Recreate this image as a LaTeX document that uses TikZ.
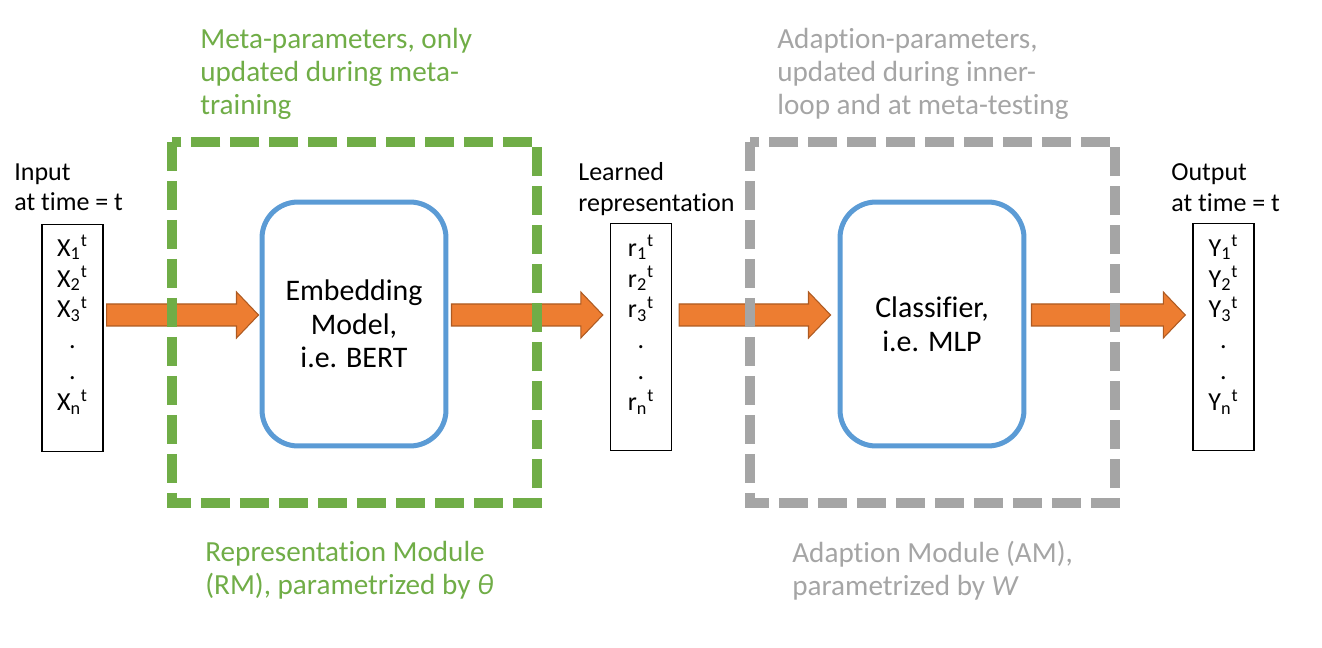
\documentclass[tikz,border=0pt]{standalone}
\usepackage{fontspec}
\setmainfont{Carlito}[Ligatures=CommonOff]
\usetikzlibrary{calc}
\definecolor{metagreen}{HTML}{70AD47}
\definecolor{adaptgray}{HTML}{A5A5A5}
\definecolor{modblue}{HTML}{5B9BD5}
\definecolor{arrfill}{HTML}{ED7D31}
\definecolor{arrline}{HTML}{AE5A21}
\newcommand{\blockarrow}[2]{%
  \filldraw[blockarrow] ($(#1)+(0,-11)$) -- ($(#2)+(-22,-11)$) -- ($(#2)+(-22,-23)$)
    -- (#2) -- ($(#2)+(-22,23)$) -- ($(#2)+(-22,11)$) -- ($(#1)+(0,11)$) -- cycle;}
\begin{document}
\begin{tikzpicture}[x=0.02cm, y=-0.02cm,
    vecbox/.style={draw, line width=0.8pt, minimum width=1.22cm, minimum height=4.54cm, inner sep=0pt},
    veclist/.style={align=center, inner sep=0pt, font=\fontsize{14.8}{17.6}\selectfont},
    iolabel/.style={anchor=north west, align=left, inner sep=0pt, font=\fontsize{14.8}{17.6}\selectfont},
    module/.style={draw=modblue, line width=2.85pt, rounded corners=0.72cm, minimum width=3.68cm,
      minimum height=4.88cm, align=center, font=\fontsize{17}{19.2}\selectfont},
    paramframe/.style={line width=0.2cm, dash pattern=on 0.58cm off 0.2cm},
    note/.style={anchor=north west, align=left, inner sep=0pt, font=\fontsize{16.6}{18.7}\selectfont},
    blockarrow/.style={fill=arrfill, draw=arrline, line width=0.6pt}]
  \useasboundingbox (0,0) rectangle (1322,648);

  \node[iolabel] (inlabel) at (14,163) {Input\\at time = t};
  \node[vecbox] (inbox) at (72.5,338) {};
  \node[veclist] (inlist) at (72.5,325) {X\textsubscript{1}\textsuperscript{t}\\X\textsubscript{2}\textsuperscript{t}\\X\textsubscript{3}\textsuperscript{t}\\.\\.\\X\textsubscript{n}\textsuperscript{t}};

  \node[module] (embed) at (354,324) {Embedding\\Model,\\i.e. BERT};

  \node[iolabel] (replabel) at (578,162) {Learned\\representation};
  \node[vecbox] (repbox) at (641,337) {};
  \node[veclist] (replist) at (641,325) {r\textsubscript{1}\textsuperscript{t}\\r\textsubscript{2}\textsuperscript{t}\\r\textsubscript{3}\textsuperscript{t}\\.\\.\\r\textsubscript{n}\textsuperscript{t}};

  \node[module] (classif) at (932,324) {Classifier,\\i.e. MLP};

  \node[iolabel] (outlabel) at (1171,163) {Output\\at time = t};
  \node[vecbox] (outbox) at (1223.5,337) {};
  \node[veclist] (outlist) at (1223.5,325) {Y\textsubscript{1}\textsuperscript{t}\\Y\textsubscript{2}\textsuperscript{t}\\Y\textsubscript{3}\textsuperscript{t}\\.\\.\\Y\textsubscript{n}\textsuperscript{t}};

  % arrows between the stages
  \coordinate (row) at (0,315);
  \coordinate (a1s) at ($(inbox.east |- row)+(3,0)$);
  \coordinate (a1e) at ($(embed.west |- row)+(-1,0)$);
  \coordinate (a2s) at ($(embed.east |- row)+(3,0)$);
  \coordinate (a2e) at ($(repbox.west |- row)+(-7,0)$);
  \coordinate (a3s) at ($(repbox.east |- row)+(7,0)$);
  \coordinate (a3e) at ($(classif.west |- row)+(-7,0)$);
  \coordinate (a4s) at ($(classif.east |- row)+(5,0)$);
  \coordinate (a4e) at ($(outbox.west |- row)+(-7,0)$);
  \blockarrow{a1s}{a1e}
  \blockarrow{a2s}{a2e}
  \blockarrow{a3s}{a3e}
  \blockarrow{a4s}{a4e}

  % parameter groups
  \draw[paramframe, metagreen] (172,142) rectangle (537,503);
  \draw[paramframe, adaptgray] (750,142) rectangle (1115,503);

  \node[note, text=metagreen] (metatop) at (200,28) {Meta-parameters, only\\updated during meta-\\training};
  \node[note, text=metagreen] (metabot) at (205,541) {Representation Module\\(RM), parametrized by \textit{θ}};
  \node[note, text=adaptgray] (adapttop) at (777,28) {Adaption-parameters,\\updated during inner-\\loop and at meta-testing};
  \node[note, text=adaptgray] (adaptbot) at (792,541) {Adaption Module (AM),\\parametrized by \textit{W}};
\end{tikzpicture}
\end{document}
